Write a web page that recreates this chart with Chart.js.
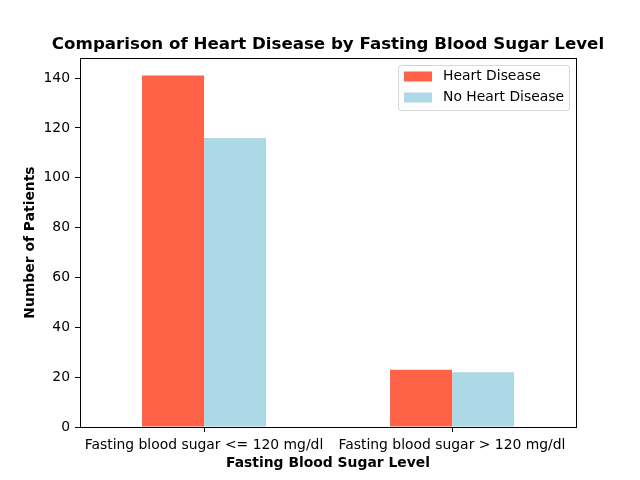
<!DOCTYPE html>
<html><head><meta charset="utf-8">
<script src="https://cdn.jsdelivr.net/npm/chart.js@4"></script>
<style>html,body{margin:0;padding:0;background:#fff}#wrap{width:640px;height:480px}</style>
</head><body><div id="wrap"><canvas id="c" width="640" height="480"></canvas></div>
<script>
const categories = ["Fasting blood sugar <= 120 mg/dl", "Fasting blood sugar > 120 mg/dl"];
const heartDisease = [141, 23];
const noHeartDisease = [116, 22];
const yTicks = [0, 20, 40, 60, 80, 100, 120, 140];
const titleText = "Comparison of Heart Disease by Fasting Blood Sugar Level";
const FONT = "'DejaVu Sans', sans-serif";
const FS = 13.9;

const frame = {
  id: 'frame',
  afterDraw(chart) {
    const {ctx, chartArea: a} = chart;
    ctx.save();
    ctx.strokeStyle = '#000'; ctx.lineWidth = 1;
    ctx.strokeRect(Math.round(a.left)+0.5, Math.round(a.top)+0.5, Math.round(a.right-a.left), Math.round(a.bottom-a.top));
    // title
    ctx.fillStyle = '#000';
    ctx.font = "bold 16.67px " + FONT;
    ctx.textAlign = 'center'; ctx.textBaseline = 'alphabetic';
    ctx.fillText(titleText, (a.left + a.right) / 2, 49);
    // legend
    const bx = 398.5, by = 65.5, bw = 171, bh = 45, r = 3;
    ctx.beginPath();
    ctx.moveTo(bx+r, by); ctx.lineTo(bx+bw-r, by); ctx.quadraticCurveTo(bx+bw, by, bx+bw, by+r);
    ctx.lineTo(bx+bw, by+bh-r); ctx.quadraticCurveTo(bx+bw, by+bh, bx+bw-r, by+bh);
    ctx.lineTo(bx+r, by+bh); ctx.quadraticCurveTo(bx, by+bh, bx, by+bh-r);
    ctx.lineTo(bx, by+r); ctx.quadraticCurveTo(bx, by, bx+r, by);
    ctx.closePath();
    ctx.fillStyle = 'rgba(255,255,255,0.8)'; ctx.fill();
    ctx.strokeStyle = '#d6d6d6'; ctx.stroke();
    ctx.font = FS + "px " + FONT;
    ctx.textAlign = 'left'; ctx.textBaseline = 'middle';
    chart.data.datasets.forEach((ds, i) => {
      const cy = 76.5 + i * 21;
      ctx.fillStyle = ds.backgroundColor;
      ctx.fillRect(404, cy - 5, 28, 10);
      ctx.fillStyle = '#000';
      ctx.fillText(ds.label, 443, cy);
    });
    ctx.restore();
  }
};

new Chart(document.getElementById('c'), {
  type: 'bar',
  data: {
    labels: categories,
    datasets: [
      {label: 'Heart Disease', data: heartDisease, backgroundColor: '#FF6347', categoryPercentage: 0.5, barPercentage: 1.0},
      {label: 'No Heart Disease', data: noHeartDisease, backgroundColor: '#ADD8E6', categoryPercentage: 0.5, barPercentage: 1.0}
    ]
  },
  options: {
    responsive: false,
    animation: false,
    layout: {padding: {top: 58, right: 64, left: 0, bottom: 0}},
    plugins: {legend: {display: false}, title: {display: false}, tooltip: {enabled: false}},
    scales: {
      x: {
        grid: {display: true, drawOnChartArea: false, offset: false, tickLength: 5, color: '#000'},
        border: {display: true, color: '#000'},
        ticks: {color: '#000', font: {family: FONT, size: FS}, padding: 5, maxRotation: 0, autoSkip: false},
        title: {display: true, text: 'Fasting Blood Sugar Level', color: '#000', font: {family: FONT, size: FS, weight: 'bold'}, padding: {top: 2, bottom: 8}},
        afterFit(s) { s.height = 53; }
      },
      y: {
        min: 0, max: 148.05,
        afterBuildTicks(s) { s.ticks = yTicks.map(v => ({value: v})); },
        grid: {display: true, drawOnChartArea: false, tickLength: 5, color: '#000'},
        border: {display: true, color: '#000'},
        ticks: {color: '#000', font: {family: FONT, size: FS}, padding: 5},
        title: {display: true, text: 'Number of Patients', color: '#000', font: {family: FONT, size: FS, weight: 'bold'}, padding: {top: 22, bottom: 0}},
        afterFit(s) { s.width = 80; }
      }
    }
  },
  plugins: [frame]
});
</script></body></html>
